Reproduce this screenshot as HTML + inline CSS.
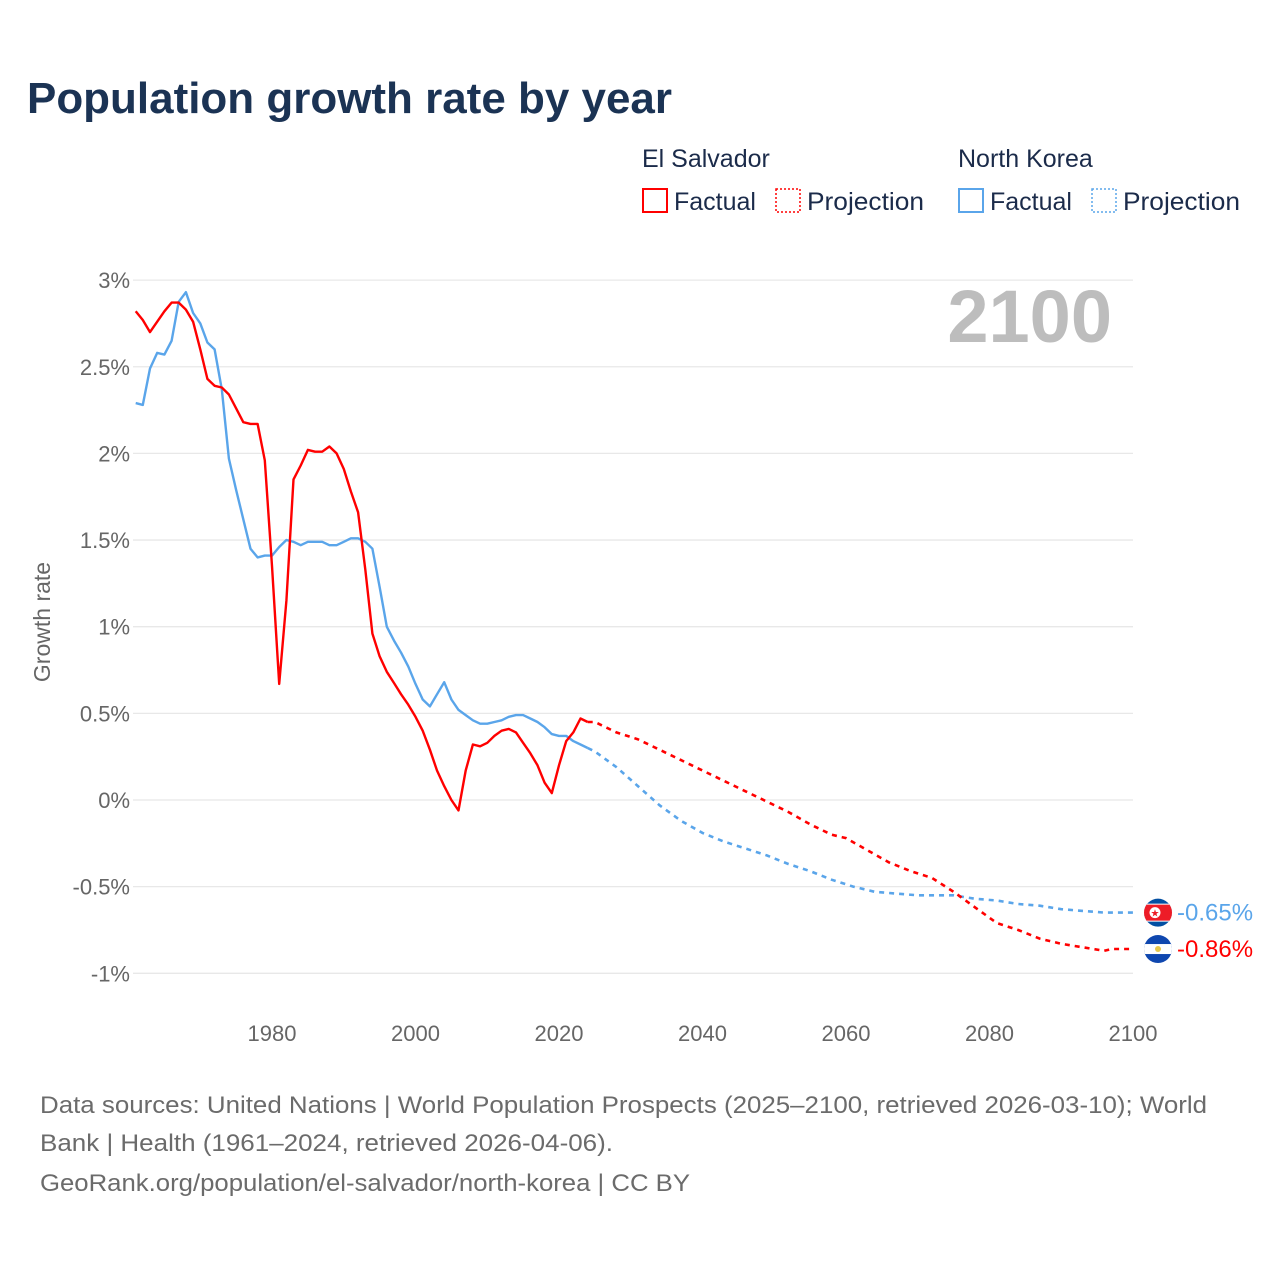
<!DOCTYPE html>
<html><head><meta charset="utf-8"><style>
body{margin:0;width:1280px;height:1280px;background:#fff;font-family:"Liberation Sans",sans-serif;overflow:hidden}
svg{display:block}
</style></head><body>
<svg id="c" width="1280" height="1280" xmlns="http://www.w3.org/2000/svg">
<text x="27" y="113" font-size="44" font-weight="bold" fill="#1b3354" textLength="645" lengthAdjust="spacingAndGlyphs">Population growth rate by year</text>
<g font-size="25" fill="#1b2b4a">
<text x="642" y="167">El Salvador</text>
<text x="958" y="167">North Korea</text>
<rect x="643" y="189" width="24" height="23" fill="none" stroke="#f00" stroke-width="2"/>
<text x="674" y="210">Factual</text>
<rect x="776" y="189" width="24" height="23" fill="none" stroke="#f00" stroke-width="1.5" stroke-dasharray="2,2"/>
<text x="807" y="210" textLength="117" lengthAdjust="spacingAndGlyphs">Projection</text>
<rect x="959" y="189" width="24" height="23" fill="none" stroke="#5aa5ea" stroke-width="2"/>
<text x="990" y="210">Factual</text>
<rect x="1092" y="189" width="24" height="23" fill="none" stroke="#5aa5ea" stroke-width="1.5" stroke-dasharray="2,2"/>
<text x="1123" y="210" textLength="117" lengthAdjust="spacingAndGlyphs">Projection</text>
</g>
<text x="1112" y="342" font-size="74" font-weight="bold" fill="#bdbdbd" text-anchor="end">2100</text>
<text transform="translate(50,622) rotate(-90)" font-size="23" fill="#666" text-anchor="middle">Growth rate</text>
<g id="grid"></g><g id="marks"></g>
<g font-size="24" fill="#6b6b6b">
<text x="40" y="1113" textLength="1167" lengthAdjust="spacingAndGlyphs">Data sources: United Nations | World Population Prospects (2025–2100, retrieved 2026-03-10); World</text>
<text x="40" y="1151" textLength="573" lengthAdjust="spacingAndGlyphs">Bank | Health (1961–2024, retrieved 2026-04-06).</text>
<text x="40" y="1191" textLength="650" lengthAdjust="spacingAndGlyphs">GeoRank.org/population/el-salvador/north-korea | CC BY</text>
</g>
</svg>
<script>
const yTicks=[3,2.5,2,1.5,1,0.5,0,-0.5,-1];
const yTickLabels=["3%","2.5%","2%","1.5%","1%","0.5%","0%","-0.5%","-1%"];
const xTicks=[1980,2000,2020,2040,2060,2080,2100];
const factYears=[1961,1962,1963,1964,1965,1966,1967,1968,1969,1970,1971,1972,1973,1974,1975,1976,1977,1978,1979,1980,1981,1982,1983,1984,1985,1986,1987,1988,1989,1990,1991,1992,1993,1994,1995,1996,1997,1998,1999,2000,2001,2002,2003,2004,2005,2006,2007,2008,2009,2010,2011,2012,2013,2014,2015,2016,2017,2018,2019,2020,2021,2022,2023,2024];
const svFact=[2.82,2.77,2.70,2.76,2.82,2.87,2.87,2.83,2.76,2.60,2.43,2.39,2.38,2.34,2.26,2.18,2.17,2.17,1.96,1.35,0.67,1.15,1.85,1.93,2.02,2.01,2.01,2.04,2.00,1.91,1.78,1.66,1.33,0.96,0.83,0.74,0.675,0.61,0.55,0.48,0.40,0.29,0.17,0.08,0.00,-0.06,0.17,0.32,0.31,0.33,0.37,0.40,0.41,0.39,0.33,0.27,0.20,0.10,0.04,0.20,0.34,0.39,0.47,0.45];
const kpFact=[2.29,2.28,2.49,2.58,2.57,2.65,2.875,2.93,2.81,2.75,2.64,2.60,2.37,1.97,1.79,1.62,1.45,1.40,1.41,1.41,1.46,1.50,1.49,1.47,1.49,1.49,1.49,1.47,1.47,1.49,1.51,1.51,1.49,1.45,1.23,1.00,0.92,0.85,0.77,0.67,0.58,0.54,0.61,0.68,0.58,0.52,0.49,0.46,0.44,0.44,0.45,0.46,0.48,0.49,0.49,0.47,0.45,0.42,0.38,0.37,0.37,0.34,0.32,0.30];
const svProjYears=[2024,2025,2028,2031,2034,2037,2040,2043,2046,2049,2052,2055,2058,2060,2063,2066,2069,2072,2075,2078,2081,2084,2087,2090,2093,2096,2097,2100];
const svProj=[0.45,0.45,0.39,0.35,0.29,0.23,0.17,0.11,0.05,-0.01,-0.07,-0.14,-0.20,-0.22,-0.29,-0.36,-0.41,-0.45,-0.53,-0.62,-0.71,-0.75,-0.80,-0.83,-0.85,-0.87,-0.86,-0.86];
const kpProjYears=[2024,2025,2028,2031,2034,2037,2040,2043,2046,2049,2052,2055,2058,2061,2064,2067,2070,2075,2078,2081,2084,2087,2090,2093,2096,2100];
const kpProj=[0.30,0.28,0.19,0.08,-0.03,-0.12,-0.19,-0.24,-0.28,-0.32,-0.37,-0.41,-0.46,-0.50,-0.53,-0.54,-0.55,-0.55,-0.57,-0.58,-0.60,-0.61,-0.63,-0.64,-0.65,-0.65];
const NS="http://www.w3.org/2000/svg";
const X=y=>272+(y-1980)*7.175;
const Y=v=>800-v*173.3;
function mk(tag,attrs,parent){const e=document.createElementNS(NS,tag);for(const k in attrs)e.setAttribute(k,attrs[k]);parent.appendChild(e);return e;}
const grid=document.getElementById('grid'),marks=document.getElementById('marks');
yTicks.forEach((t,i)=>{
 const l=mk('line',{x1:133,x2:1133,y1:Y(t),y2:Y(t),stroke:'#e8e8e8','stroke-width':1.3},grid);
 
 
 const tx=mk('text',{x:130,y:Y(t)+8,'font-size':22,fill:'#666','text-anchor':'end'},grid);
 tx.textContent=yTickLabels[i];
 
 
});
xTicks.forEach(t=>{
 const tx=mk('text',{x:X(t),y:1041,'font-size':22,fill:'#666','text-anchor':'middle'},grid);
 tx.textContent=t;
 
 
});
function path(xs,vs){return xs.map((y,i)=>(i?'L':'M')+X(y).toFixed(1)+' '+Y(vs[i]).toFixed(1)).join(' ');}
let p;
p=mk('path',{d:path(kpProjYears,kpProj),fill:'none',stroke:'#5aa5ea','stroke-width':2.6,'stroke-dasharray':'5,5'},marks);


p=mk('path',{d:path(svProjYears,svProj),fill:'none',stroke:'#f00','stroke-width':2.6,'stroke-dasharray':'5,5'},marks);


p=mk('path',{d:path(factYears,kpFact),fill:'none',stroke:'#5aa5ea','stroke-width':2.4,'stroke-linejoin':'round'},marks);


p=mk('path',{d:path(factYears,svFact),fill:'none',stroke:'#f00','stroke-width':2.4,'stroke-linejoin':'round'},marks);


const kpEnd=kpProj[kpProj.length-1], svEnd=svProj[svProj.length-1];
const kpY=Y(kpEnd), svY=Y(svEnd);
const fg=mk('g',{},marks);


fg.innerHTML=`<clipPath id="ck"><circle cx="1158" cy="${kpY}" r="14"/></clipPath><g clip-path="url(#ck)"><rect x="1140" y="${kpY-15}" width="36" height="30" fill="#024fa2"/><rect x="1140" y="${kpY-9}" width="36" height="18" fill="#fff"/><rect x="1140" y="${kpY-8}" width="36" height="16" fill="#ed1c27"/><circle cx="1155" cy="${kpY}" r="5.5" fill="#fff"/><text x="1155" y="${kpY+4}" font-size="10" fill="#ed1c27" text-anchor="middle">★</text></g>`;
const fg2=mk('g',{},marks);


fg2.innerHTML=`<clipPath id="cs"><circle cx="1158" cy="${svY}" r="14"/></clipPath><g clip-path="url(#cs)"><rect x="1140" y="${svY-15}" width="36" height="30" fill="#0f47af"/><rect x="1140" y="${svY-5}" width="36" height="10" fill="#fff"/><circle cx="1158" cy="${svY}" r="3" fill="#e8c84a"/></g>`;
let t=mk('text',{x:1177,y:kpY+8,'font-size':24,fill:'#5aa5ea'},marks);
t.textContent=kpEnd.toFixed(2)+'%';


t=mk('text',{x:1177,y:svY+8,'font-size':24,fill:'#f00'},marks);
t.textContent=svEnd.toFixed(2)+'%';


</script>
</body></html>
